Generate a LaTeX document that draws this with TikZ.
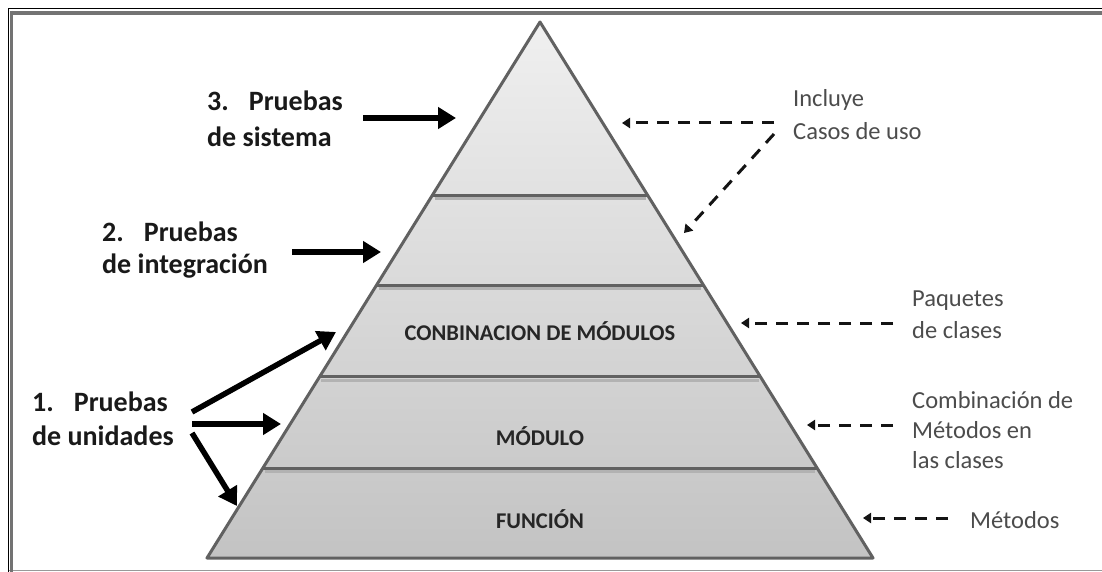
\documentclass[tikz,border=0pt]{standalone}
\usepackage{fontspec}
\setmainfont{Carlito}
\usetikzlibrary{arrows.meta,calc}
\begin{document}
\begin{tikzpicture}[x=1pt,y=-1pt,
  lbl/.style={anchor=base west, inner sep=0pt, font=\fontsize{28}{34}\selectfont\bfseries, text=black!90},
  rlbl/.style={anchor=base west, inner sep=0pt, font=\fontsize{24.5}{30}\selectfont, text=black!70},
  bandtxt/.style={anchor=base, inner sep=0pt, font=\fontsize{22.5}{26}\selectfont\bfseries, text=black!85},
  bigarrow/.style={line width=5.5pt, -{Triangle[length=18pt,width=21pt]}},
  dasharrow/.style={line width=3pt, dash pattern=on 12pt off 9pt, -{Triangle[length=8pt,width=10pt]}, black!92},
  edgeline/.style={draw=black!62, line width=3pt, line join=round},
  shadowline/.style={draw=black!30, line width=2.5pt},
]
\useasboundingbox (0,0) rectangle (1102,572);
\fill[white] (0,0) rectangle (1102,572);
% frame
\draw[black!40, line width=1.5pt] (8,570.5) -- (1102,570.5);
\draw[black!55, line width=4pt] (10,13) -- (1102,13);
\draw[black!55, line width=3pt] (11.5,11) -- (11.5,572);
\draw[black, line width=1.5pt] (8.5,8.5) -- (1102,8.5);
\draw[black, line width=1.5pt] (8.5,8.5) -- (8.5,572);

% pyramid
\coordinate (A) at (540,22);
\coordinate (BL) at (207,558);
\coordinate (BR) at (873,558);
\shade[top color=gray!12, bottom color=gray!47] (A) -- (BL) -- (BR) -- cycle;
\foreach \t in {0.3228,0.4907,0.6623,0.8321}{
  \draw[shadowline] ($(A)!\t!(BL)+(2,3.5)$) -- ($(A)!\t!(BR)+(-2,3.5)$);
  \draw[edgeline] ($(A)!\t!(BL)$) -- ($(A)!\t!(BR)$);
}
\draw[edgeline] (A) -- (BL) -- (BR) -- cycle;

% band texts
\node[bandtxt] (b3) at (540,340) {CONBINACION DE MÓDULOS};
\node[bandtxt] (b2) at (540,445) {MÓDULO};
\node[bandtxt] (b1) at (540,528) {FUNCIÓN};

% left labels
\node[lbl] (l3a) at (207,110.7) {3.\hspace{20pt}Pruebas};
\node[lbl] (l3b) at (207,146.7) {de sistema};
\node[lbl] (l2a) at (102,241.7) {2.\hspace{20pt}Pruebas};
\node[lbl] (l2b) at (102,273.3) {de integración};
\node[lbl] (l1a) at (32,411.7) {1.\hspace{20pt}Pruebas};
\node[lbl] (l1b) at (32,445) {de unidades};

% right labels
\node[rlbl] (r1a) at (793,106.7) {Incluye};
\node[rlbl] (r1b) at (793,139.3) {Casos de uso};
\node[rlbl] (r2a) at (912,306.7) {Paquetes};
\node[rlbl] (r2b) at (912,338.3) {de clases};
\node[rlbl] (r3a) at (912,408.3) {Combinación de};
\node[rlbl] (r3b) at (912,438.3) {Métodos en};
\node[rlbl] (r3c) at (912,468.3) {las clases};
\node[rlbl] (r4) at (970,528.3) {Métodos};

% solid arrows
\coordinate (s3) at (363,118);  \coordinate (e3) at (456,118);
\coordinate (s2) at (292,252);  \coordinate (e2) at (381,252);
\coordinate (s1a) at (192,412); \coordinate (e1a) at (336,332);
\coordinate (s1b) at (192,424); \coordinate (e1b) at (281,424);
\coordinate (s1c) at (192,433); \coordinate (e1c) at (237,506);
\draw[bigarrow] (s3) -- (e3);
\draw[bigarrow] (s2) -- (e2);
\draw[bigarrow] (s1a) -- (e1a);
\draw[bigarrow] (s1b) -- (e1b);
\draw[bigarrow] (s1c) -- (e1c);

% dashed arrows
\coordinate (d1s) at (774,123); \coordinate (d1e) at (622,123);
\coordinate (d2s) at (774,134); \coordinate (d2e) at (684,233);
\coordinate (d3s) at (893,323); \coordinate (d3e) at (741,323);
\coordinate (d4s) at (893,425); \coordinate (d4e) at (807,425);
\coordinate (d5s) at (948,518); \coordinate (d5e) at (863,518);
\draw[dasharrow] (d1s) -- (d1e);
\draw[dasharrow] (d2s) -- (d2e);
\draw[dasharrow] (d3s) -- (d3e);
\draw[dasharrow] (d4s) -- (d4e);
\draw[dasharrow] (d5s) -- (d5e);
\end{tikzpicture}
\end{document}
